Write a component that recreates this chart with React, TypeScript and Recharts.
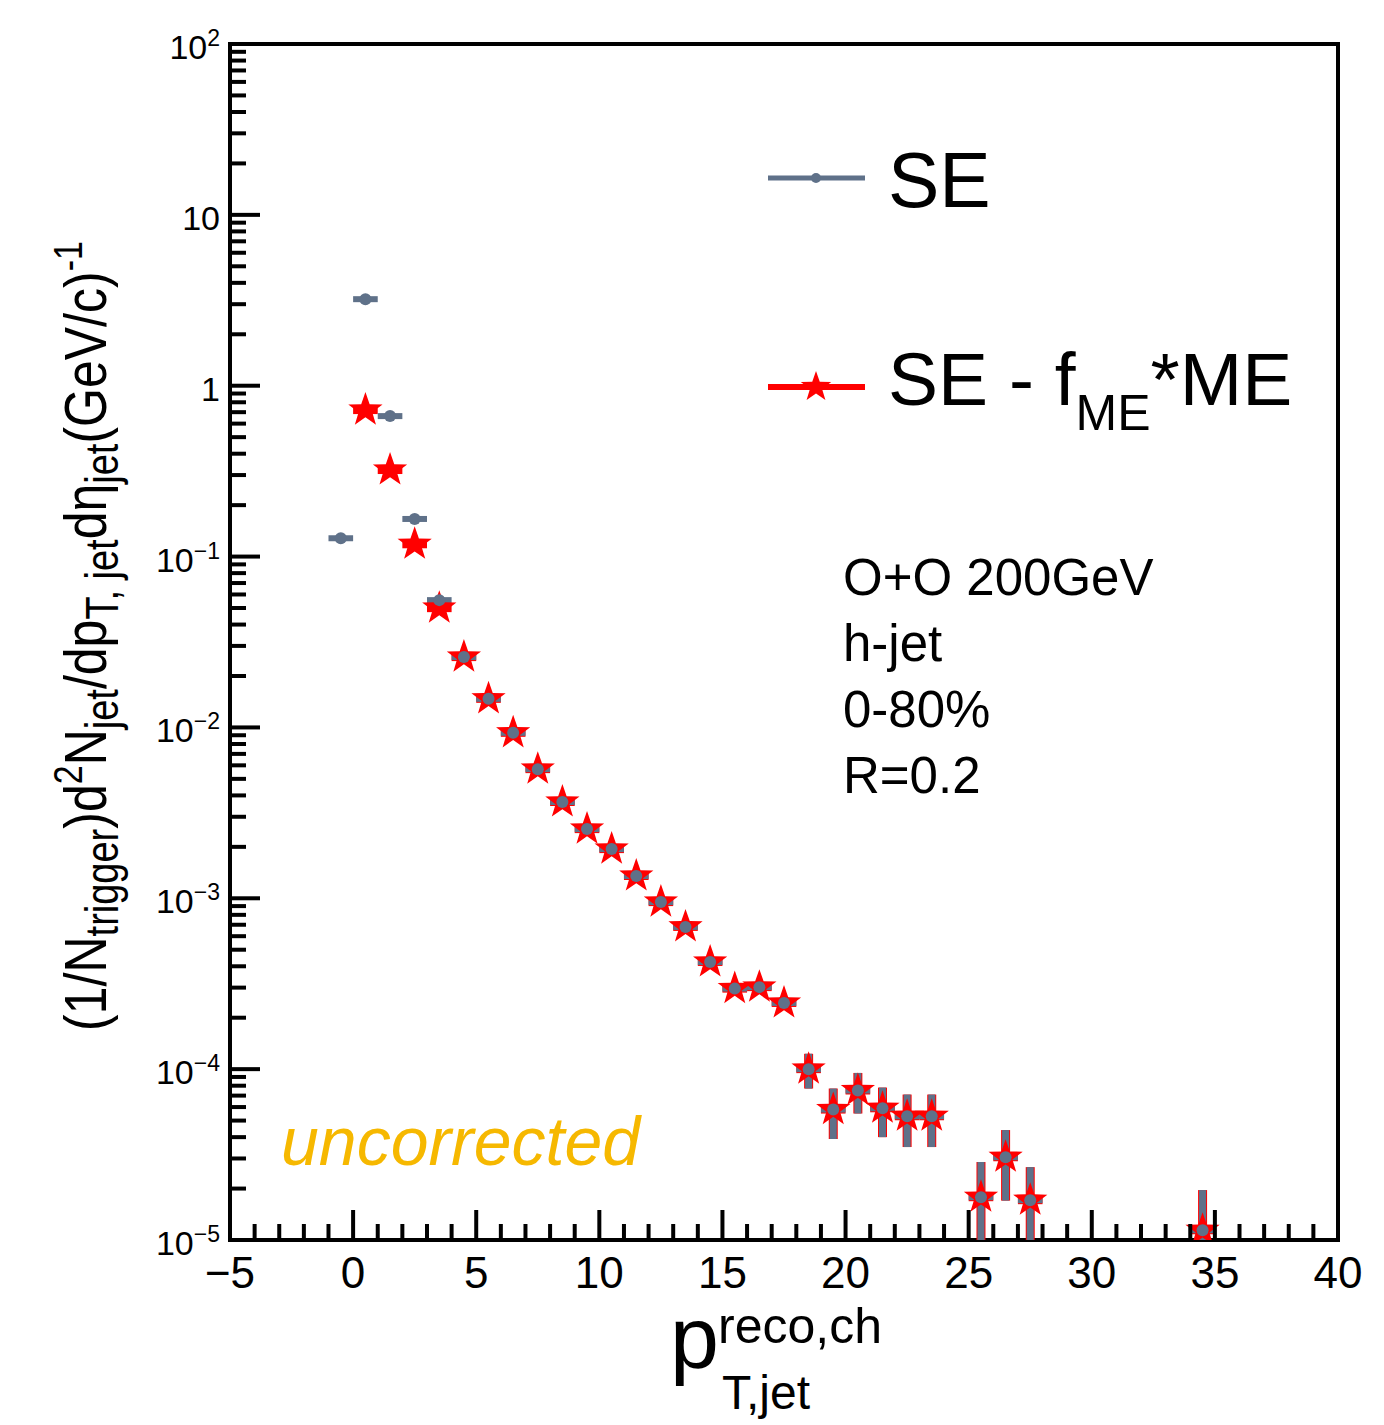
import React from 'react';
import { ScatterChart, Scatter, XAxis, YAxis, ErrorBar, ReferenceArea } from 'recharts';

// SE (same event) spectrum
const SE_X = [-0.5, 0.5, 1.5, 2.5, 3.5, 4.5, 5.5, 6.5, 7.5, 8.5, 9.5, 10.5, 11.5, 12.5, 13.5, 14.5, 15.5, 16.5, 17.5, 18.5, 19.5, 20.5, 21.5, 22.5, 23.5, 25.5, 26.5, 27.5, 34.5];
const SE_Y = [0.128, 3.21, 0.664, 0.166, 0.0556, 0.0258, 0.0147, 0.0093, 0.0057, 0.00366, 0.00254, 0.00194, 0.00135, 0.00095, 0.00068, 0.000424, 0.000296, 0.000302, 0.000244, 1.0e-4, 5.8e-5, 7.5e-5, 5.9e-5, 5.3e-5, 5.3e-5, 1.78e-5, 3.05e-5, 1.71e-5, 1.14e-5];
const SE_ERR = [0.002, 0.02, 0.008, 0.004, 0.0015, 0.0008, 0.0005, 0.0003, 0.0002, 0.00012, 0.0001, 0.00008, 0.00006, 0.00005, 0.00004, 0.00003, 0.00002, 0.00002, 0.00002, 2.3e-5, 1.9e-5, 2.0e-5, 1.9e-5, 1.8e-5, 1.8e-5, 1.08e-5, 1.35e-5, 9.6e-6, 8.2e-6];

// SE - f_ME*ME spectrum
const SUB_X = [0.5, 1.5, 2.5, 3.5, 4.5, 5.5, 6.5, 7.5, 8.5, 9.5, 10.5, 11.5, 12.5, 13.5, 14.5, 15.5, 16.5, 17.5, 18.5, 19.5, 20.5, 21.5, 22.5, 23.5, 25.5, 26.5, 27.5, 34.5];
const SUB_Y = [0.72, 0.321, 0.118, 0.0499, 0.0258, 0.0147, 0.0093, 0.0057, 0.00366, 0.00254, 0.00194, 0.00135, 0.00095, 0.00068, 0.000424, 0.000296, 0.000302, 0.000244, 1.0e-4, 5.8e-5, 7.5e-5, 5.9e-5, 5.3e-5, 5.3e-5, 1.78e-5, 3.05e-5, 1.71e-5, 1.14e-5];
const SUB_ERR = [0.02, 0.008, 0.004, 0.0015, 0.0008, 0.0005, 0.0003, 0.0002, 0.00012, 0.0001, 0.00008, 0.00006, 0.00005, 0.00004, 0.00003, 0.00002, 0.00002, 0.00002, 2.3e-5, 1.9e-5, 2.0e-5, 1.9e-5, 1.8e-5, 1.8e-5, 1.08e-5, 1.35e-5, 9.6e-6, 8.2e-6];

const BIN_HALF = 0.5;
const Y_MIN = 1e-5;
const Y_MAX = 100;

const X_MAJOR = [-5, 0, 5, 10, 15, 20, 25, 30, 35, 40];
const X_LABELS = ['\u22125', '0', '5', '10', '15', '20', '25', '30', '35', '40'];
const Y_DECADES = [-5, -4, -3, -2, -1, 0, 1, 2];
const Y_EXP_LABELS = ['\u22125', '\u22124', '\u22123', '\u22122', '\u22121', '', '', '2'];
const ANNOTATIONS = ['O+O 200GeV', 'h-jet', '0-80%', 'R=0.2'];

const GRAY = '#5f7189';
const RED = '#ff0000';
const FONT = '"Liberation Sans", Arial, Helvetica, sans-serif';

const W = 1376;
const H = 1417;

// error bars are cut at the bottom of the frame, like the drawing does
const clipErr = (y: number, e: number) => [Math.min(e, y - Y_MIN), e];

const seData = SE_X.map((x, i) => ({ x, y: SE_Y[i], ex: BIN_HALF, ey: clipErr(SE_Y[i], SE_ERR[i]) }));
const subData = SUB_X.map((x, i) => ({ x, y: SUB_Y[i], ex: BIN_HALF, ey: clipErr(SUB_Y[i], SUB_ERR[i]) }));

const xTicks: number[] = [];
for (let v = -5; v <= 40; v++) xTicks.push(v);
const yTicks: number[] = [];
Y_DECADES.forEach((d) => {
  for (let m = 1; m <= 9; m++) {
    if (d === 2 && m > 1) break;
    yTicks.push(Number((m * Math.pow(10, d)).toPrecision(3)));
  }
});

function starPoints(cx: number, cy: number, R: number, r: number) {
  const pts: string[] = [];
  for (let k = 0; k < 10; k++) {
    const rad = k % 2 === 0 ? R : r;
    const a = -Math.PI / 2 + (k * Math.PI) / 5;
    pts.push(`${cx + rad * Math.cos(a)},${cy + rad * Math.sin(a)}`);
  }
  return pts.join(' ');
}

const StarShape = (props: any) => {
  const { cx, cy } = props;
  if (cx == null || cy == null) return null;
  return <polygon points={starPoints(cx, cy, 18, 7.2)} fill={RED} />;
};

const DotShape = (props: any) => {
  const { cx, cy } = props;
  if (cx == null || cy == null) return null;
  return <circle cx={cx} cy={cy} r={6} fill={GRAY} />;
};

const XTick = (props: any) => {
  const { x, y, payload } = props;
  const v = payload.value;
  const idx = X_MAJOR.indexOf(v);
  const major = idx >= 0;
  return (
    <g>
      <line x1={x} x2={x} y1={y} y2={y - (major ? 30 : 16)} stroke="#000" strokeWidth={4} />
      {major && (
        <text x={x} y={y + 48} textAnchor="middle" fontSize={44} fontFamily={FONT} fill="#000">
          {X_LABELS[idx]}
        </text>
      )}
    </g>
  );
};

const YTick = (props: any) => {
  const { x, y, payload } = props;
  const v = payload.value;
  const exp = Math.round(Math.log10(v));
  const major = Math.abs(v - Math.pow(10, exp)) < Math.pow(10, exp) * 1e-6;
  const idx = Y_DECADES.indexOf(exp);
  let label: React.ReactNode = null;
  if (major) {
    if (exp === 0) label = <tspan>1</tspan>;
    else if (exp === 1) label = <tspan>10</tspan>;
    else
      label = (
        <>
          <tspan>10</tspan>
          <tspan dy={-13} fontSize={23}>
            {Y_EXP_LABELS[idx]}
          </tspan>
        </>
      );
  }
  return (
    <g>
      <line x1={x} x2={x + (major ? 30 : 16)} y1={y} y2={y} stroke="#000" strokeWidth={4} />
      {major && (
        <text x={x - 10} y={y + 15} textAnchor="end" fontSize={34} fontFamily={FONT} fill="#000">
          {label}
        </text>
      )}
    </g>
  );
};

function Overlay() {
  const o = 8; // body margin offset
  return (
    <svg width={W} height={H} style={{ position: 'absolute', left: 0, top: 0, pointerEvents: 'none' }} fontFamily={FONT}>
      {/* legend */}
      <line x1={768 - o} x2={865 - o} y1={178 - o} y2={178 - o} stroke={GRAY} strokeWidth={5} />
      <circle cx={816 - o} cy={178 - o} r={5} fill={GRAY} />
      <text x={888 - o} y={207 - o} fontSize={77} fill="#000">SE</text>
      <line x1={768 - o} x2={865 - o} y1={387 - o} y2={387 - o} stroke={RED} strokeWidth={6} />
      <polygon points={starPoints(816 - o, 387 - o, 16, 6.4)} fill={RED} />
      <text x={888 - o} y={405 - o} fontSize={75} fill="#000">
        SE - f
        <tspan fontSize={50} dy={25}>ME</tspan>
        <tspan dy={-25}>*ME</tspan>
      </text>

      {/* annotations */}
      {ANNOTATIONS.map((t, i) => (
        <text key={t} x={843 - o} y={595 - o + i * 66} fontSize={51} fill="#000">
          {t}
        </text>
      ))}
      <text x={281 - o} y={1165 - o} fontSize={68} fontStyle="italic" fill="#f6b800">
        uncorrected
      </text>

      {/* y title */}
      <text transform={`translate(${106 - o}, ${636 - o}) rotate(-90) scale(1, 1.2)`} textAnchor="middle" fontSize={50} fill="#000">
        (1/N
        <tspan fontSize={38} dy={10}>trigger</tspan>
        <tspan dy={-10}>)d</tspan>
        <tspan fontSize={34} dy={-20}>2</tspan>
        <tspan dy={20}>N</tspan>
        <tspan fontSize={38} dy={10}>jet</tspan>
        <tspan dy={-10}>/dp</tspan>
        <tspan fontSize={38} dy={10}>T, jet</tspan>
        <tspan dy={-10}>d{'\u03b7'}</tspan>
        <tspan fontSize={38} dy={10}>jet</tspan>
        <tspan dy={-10}>(GeV/c)</tspan>
        <tspan fontSize={34} dy={-20}>-1</tspan>
      </text>

      {/* x title */}
      <text x={670 - o} y={1368 - o} fontSize={88} fill="#000">p</text>
      <text x={718 - o} y={1343 - o} fontSize={50} fill="#000">reco,ch</text>
      <text x={722 - o} y={1409 - o} fontSize={48} fill="#000">T,jet</text>
    </svg>
  );
}

export default function App() {
  return (
    <div style={{ position: 'relative', width: W, height: H, background: '#fff' }}>
      <ScatterChart width={W} height={H} margin={{ top: 36, right: 46, bottom: 0, left: 0 }}>
        <XAxis
          type="number"
          dataKey="x"
          domain={[-5, 40]}
          ticks={xTicks}
          interval={0}
          allowDataOverflow
          axisLine={false}
          tickLine={false}
          tickSize={0}
          tickMargin={0}
          height={185}
          tick={<XTick />}
        />
        <YAxis
          type="number"
          dataKey="y"
          scale="log"
          domain={[Y_MIN, Y_MAX]}
          ticks={yTicks}
          interval={0}
          allowDataOverflow
          axisLine={false}
          tickLine={false}
          tickSize={0}
          tickMargin={0}
          width={222}
          tick={<YTick />}
        />
        <ReferenceArea x1={-5} x2={40} y1={Y_MIN} y2={Y_MAX} fill="none" stroke="#000" strokeWidth={4} />
        <Scatter name="SE - fME*ME" data={subData} shape={<StarShape />} isAnimationActive={false}>
          <ErrorBar dataKey="ex" direction="x" width={0} stroke={RED} strokeWidth={8} />
          <ErrorBar dataKey="ey" direction="y" width={0} stroke={RED} strokeWidth={9} />
        </Scatter>
        <Scatter name="SE" data={seData} shape={<DotShape />} isAnimationActive={false}>
          <ErrorBar dataKey="ex" direction="x" width={0} stroke={GRAY} strokeWidth={6} />
          <ErrorBar dataKey="ey" direction="y" width={0} stroke={GRAY} strokeWidth={7} />
        </Scatter>
      </ScatterChart>
      <Overlay />
    </div>
  );
}
